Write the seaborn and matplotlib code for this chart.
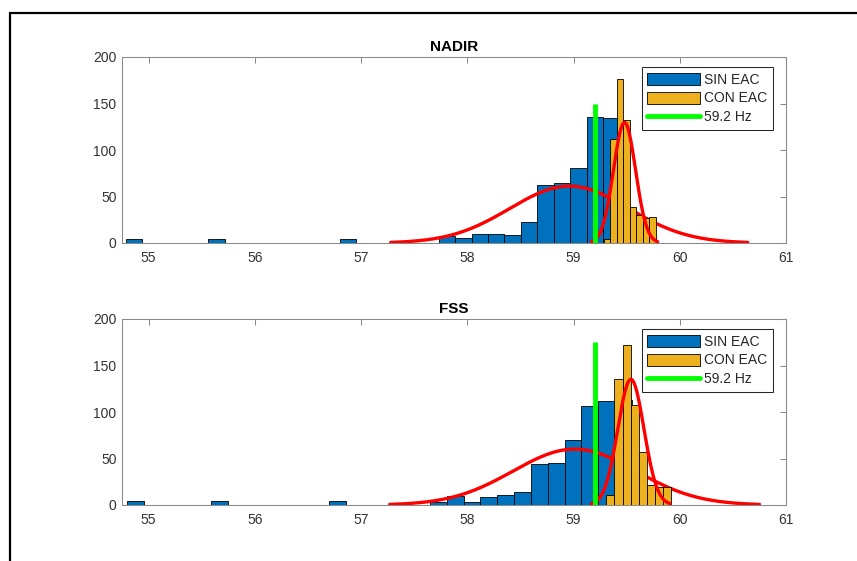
import numpy as np
import pandas as pd
import matplotlib
matplotlib.use("Agg")
import matplotlib.pyplot as plt
import seaborn as sns
from matplotlib.patches import Patch
from matplotlib.lines import Line2D

# ---------------------------------------------------------------- data
panel_titles = ["NADIR", "FSS"]
series_labels = ["SIN EAC", "CON EAC", "59.2 Hz"]

# SIN EAC histograms: first bin edge, bin width, counts per bin
nadir_sin_start = 54.785
nadir_sin_width = 0.155
nadir_sin_counts = [4, 0, 0, 0, 0, 4, 0, 0, 0, 0, 0, 0, 0, 4, 0, 0, 0, 0, 0,
                    8, 5, 10, 10, 9, 23, 62, 65, 81, 135, 134]

fss_sin_start = 54.80
fss_sin_width = 0.1583
fss_sin_counts = [4, 0, 0, 0, 0, 4, 0, 0, 0, 0, 0, 0, 4, 0, 0, 0, 0, 0,
                  3, 10, 3, 9, 11, 14, 44, 45, 70, 106, 112, 113]

# CON EAC histograms
nadir_con_start = 59.16
nadir_con_width = 0.0614
nadir_con_counts = [2, 0, 4, 112, 176, 132, 39, 30, 27, 28]

fss_con_start = 59.155
fss_con_width = 0.0766
fss_con_counts = [2, 0, 11, 135, 172, 107, 57, 22, 19, 19]

# normal fits (mean, std) for each histogram
nadir_sin_fit = (58.96, 0.56)
nadir_con_fit = (59.48, 0.104)
fss_sin_fit = (59.01, 0.58)
fss_con_fit = (59.54, 0.123)

# 59.2 Hz reference marker and its height in each panel
ref_freq = 59.2
ref_heights = [150, 175]

x_ticks = [55, 56, 57, 58, 59, 60, 61]
y_ticks = [0, 50, 100, 150, 200]

# ---------------------------------------------------------------- style
BLUE = "#0072BD"
ORANGE = "#EDB120"
RED = "#FF0000"
GREEN = "#00FF00"
AXIS_GRAY = "#8a8a8a"

sns.set_style("white")
plt.rcParams["font.family"] = ["Liberation Sans", "DejaVu Sans"]

fig = plt.figure(figsize=(8.57, 5.61), dpi=100)
W, H = 857.0, 561.0


def add_axes(left, top, right, bottom):
    return fig.add_axes([left / W, 1 - bottom / H, (right - left) / W, (bottom - top) / H])


axes = [add_axes(122, 57, 786, 243), add_axes(122, 319, 786, 505)]


def hist_fit(ax, start, width, counts, fit, color, z):
    counts = np.asarray(counts, dtype=float)
    edges = start + width * np.arange(len(counts) + 1)
    df = pd.DataFrame({"freq": 0.5 * (edges[:-1] + edges[1:]), "count": counts})
    n_before = len(ax.patches)
    sns.histplot(data=df, x="freq", weights="count", bins=list(edges), ax=ax,
                 color=color, alpha=1, edgecolor="black", linewidth=0.6, zorder=z)
    for p in ax.patches[n_before:]:
        if p.get_height() == 0:
            p.set_visible(False)
    mu, sd = fit
    area = counts.sum() * width
    xs = np.linspace(mu - 3 * sd, mu + 3 * sd, 200)
    ys = area * np.exp(-0.5 * ((xs - mu) / sd) ** 2) / (sd * np.sqrt(2 * np.pi))
    sns.lineplot(x=xs, y=ys, ax=ax, color=RED, linewidth=2.4, sort=False,
                 estimator=None, zorder=z + 0.5)


panels = [
    (nadir_sin_start, nadir_sin_width, nadir_sin_counts, nadir_sin_fit,
     nadir_con_start, nadir_con_width, nadir_con_counts, nadir_con_fit),
    (fss_sin_start, fss_sin_width, fss_sin_counts, fss_sin_fit,
     fss_con_start, fss_con_width, fss_con_counts, fss_con_fit),
]

for ax, title, spec, ref_h in zip(axes, panel_titles, panels, ref_heights):
    s0, sw, sc, sf, c0, cw, cc, cf = spec
    hist_fit(ax, s0, sw, sc, sf, BLUE, 1)
    hist_fit(ax, c0, cw, cc, cf, ORANGE, 3)
    ax.vlines(ref_freq, 0, ref_h, color=GREEN, linewidth=3.5, zorder=5)

    ax.set_xlim(54.75, 61)
    ax.set_ylim(0, 200)
    ax.set_xticks(x_ticks)
    ax.set_yticks(y_ticks)
    ax.set_xlabel("")
    ax.set_ylabel("")
    ax.set_title(title, fontsize=11, fontweight="bold", color="black", pad=4)
    ax.tick_params(direction="in", top=True, right=True, length=4.5, width=0.75,
                   colors=AXIS_GRAY, labelcolor="#333333", labelsize=10)
    ax.tick_params(axis="x", pad=6)
    ax.tick_params(axis="y", pad=4)
    for s in ax.spines.values():
        s.set_visible(True)
        s.set_color(AXIS_GRAY)
        s.set_linewidth(0.75)

    handles = [
        Patch(facecolor=BLUE, edgecolor="black", linewidth=0.6),
        Patch(facecolor=ORANGE, edgecolor="black", linewidth=0.6),
        Line2D([0], [0], color=GREEN, linewidth=3.5),
    ]
    leg = ax.legend(handles, series_labels, loc="upper right",
                    bbox_to_anchor=(0.98, 0.946), borderaxespad=0,
                    fontsize=10, handlelength=3.8, handleheight=0.95,
                    handletextpad=0.3, labelspacing=0.35, borderpad=0.4,
                    fancybox=False, framealpha=1, edgecolor="#262626")
    leg.get_frame().set_linewidth(0.75)
    leg.set_zorder(10)

# window frame along the top and left edges
top_y = 1 - 12.5 / H
left_x = 9.5 / W
fig.add_artist(Line2D([left_x, 1.0], [top_y, top_y], transform=fig.transFigure,
                      color="black", linewidth=1.6))
fig.add_artist(Line2D([left_x, left_x], [0.0, top_y], transform=fig.transFigure,
                      color="black", linewidth=1.6))

fig.savefig("out.png", dpi=100, facecolor="white")
